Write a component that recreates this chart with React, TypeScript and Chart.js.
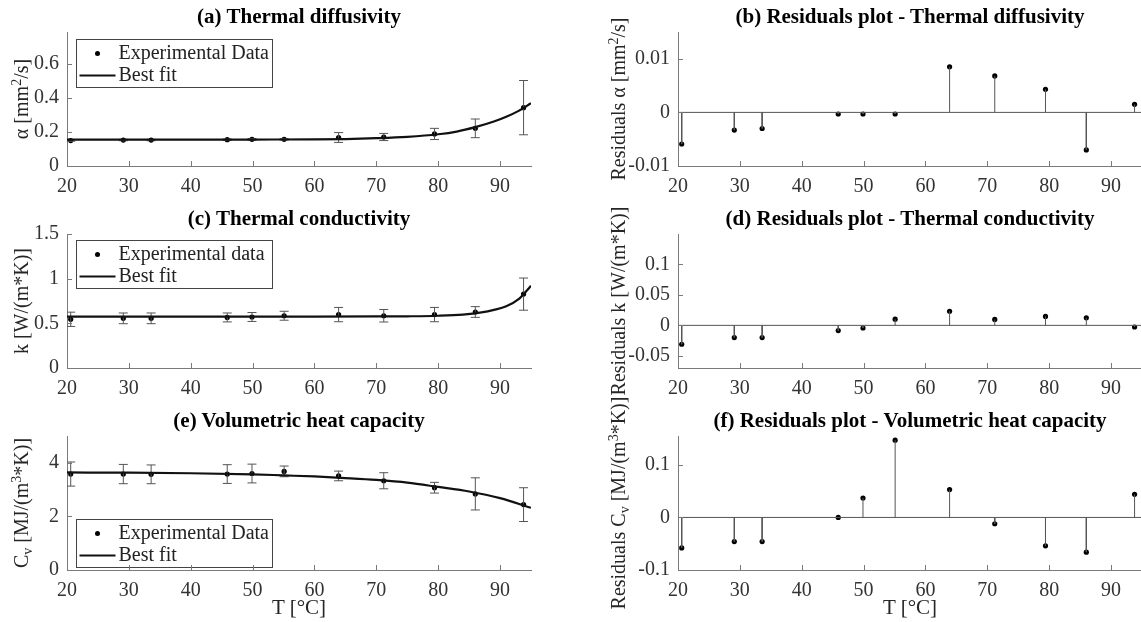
import React, { useEffect, useRef } from "react";
import { Chart, registerables } from "chart.js";

Chart.register(...registerables);

// ---------------- data ----------------
const tempX = [20.6, 29.1, 33.6, 45.9, 49.9, 55.1, 63.9, 71.2, 79.4, 86.0, 93.8];

const alphaVals = [0.150, 0.153, 0.153, 0.155, 0.157, 0.157, 0.168, 0.171, 0.189, 0.222, 0.344];
const alphaErr = [0.004, 0.004, 0.004, 0.004, 0.005, 0.004, 0.029, 0.021, 0.033, 0.055, 0.16];
const alphaFitX = [20, 30, 40, 50, 60, 65, 70, 75, 80, 83, 86, 89, 91, 93, 95];
const alphaFitY = [0.155, 0.155, 0.155, 0.156, 0.157, 0.159, 0.164, 0.172, 0.187, 0.203, 0.229, 0.262, 0.29, 0.325, 0.37];
const alphaResid = [-0.0059, -0.0033, -0.0030, -0.0003, -0.0003, -0.0003, 0.0085, 0.0068, 0.0043, -0.0070, 0.0015];

const kVals = [0.545, 0.556, 0.556, 0.566, 0.571, 0.585, 0.598, 0.585, 0.598, 0.627, 0.827];
const kErr = [0.08, 0.06, 0.06, 0.05, 0.05, 0.05, 0.08, 0.07, 0.08, 0.06, 0.18];
const kFitX = [20, 30, 40, 50, 60, 70, 75, 80, 84, 87, 89, 91, 93, 95];
const kFitY = [0.576, 0.576, 0.576, 0.576, 0.576, 0.577, 0.579, 0.585, 0.598, 0.622, 0.65, 0.69, 0.77, 0.92];
const kResid = [-0.031, -0.020, -0.020, -0.0086, -0.0043, 0.0102, 0.0232, 0.0097, 0.0146, 0.0124, -0.0027];

const cvVals = [3.58, 3.58, 3.57, 3.58, 3.60, 3.68, 3.51, 3.33, 3.07, 2.84, 2.44];
const cvErr = [0.45, 0.36, 0.35, 0.35, 0.35, 0.2, 0.18, 0.3, 0.2, 0.6, 0.63];
const cvFitX = [20, 30, 40, 50, 55, 60, 65, 70, 75, 80, 85, 90, 95];
const cvFitY = [3.64, 3.63, 3.61, 3.57, 3.53, 3.49, 3.43, 3.36, 3.26, 3.10, 2.93, 2.68, 2.32];
const cvResid = [-0.058, -0.046, -0.046, 0.0, 0.037, 0.147, 0.053, -0.012, -0.054, -0.066, 0.044];

const X_MIN = 20;
const X_MAX = 95;
const xTicks = [20, 30, 40, 50, 60, 70, 80, 90];

const alphaTicks = [0, 0.2, 0.4, 0.6];
const kTicks = [0, 0.5, 1, 1.5];
const cvTicks = [0, 2, 4];
const alphaResTicks = [-0.01, 0, 0.01];
const kResTicks = [-0.05, 0, 0.05, 0.1];
const cvResTicks = [-0.1, 0, 0.1];

// ---------------- style ----------------
const FONT = "'Liberation Serif', 'Times New Roman', serif";
const AXIS_COLOR = "#7a7a7a";
const TICK_TEXT = "#333333";
const STEM_COLOR = "#555555";
const ERR_COLOR = "#555555";

const Y_AXIS_W = 60;
const X_AXIS_H = 40;
const PAD_T = 24;
const PAD_R = 10;

const COL_L = [67, 678];
const PLOT_W = 464;
const ROW_T = [32, 234, 436];
const PLOT_H = 134;

// ---------------- plugins ----------------
const innerTicks = {
  id: "innerTicks",
  afterDraw(chart: any) {
    const { ctx, chartArea } = chart;
    const xs = chart.scales.x;
    const ys = chart.scales.y;
    ctx.save();
    ctx.strokeStyle = AXIS_COLOR;
    ctx.lineWidth = 1;
    ctx.beginPath();
    xs.ticks.forEach((t: any) => {
      const px = Math.round(xs.getPixelForValue(t.value)) + 0.5;
      ctx.moveTo(px, chartArea.bottom);
      ctx.lineTo(px, chartArea.bottom - 5);
    });
    ys.ticks.forEach((t: any) => {
      const py = Math.round(ys.getPixelForValue(t.value)) + 0.5;
      ctx.moveTo(chartArea.left, py);
      ctx.lineTo(chartArea.left + 5, py);
    });
    ctx.stroke();
    ctx.restore();
  },
};

const miniLegend = {
  id: "miniLegend",
  afterDatasetsDraw(chart: any, _args: any, opts: any) {
    if (!opts || !opts.show) return;
    const { ctx, chartArea } = chart;
    const w = 196;
    const h = 48;
    const x0 = Math.round(chartArea.left + opts.dx) + 0.5;
    const y0 =
      opts.anchor === "bottom"
        ? Math.round(chartArea.bottom - opts.dy - h) + 0.5
        : Math.round(chartArea.top + opts.dy) + 0.5;
    ctx.save();
    ctx.fillStyle = "#ffffff";
    ctx.fillRect(x0, y0, w, h);
    ctx.strokeStyle = "#444444";
    ctx.lineWidth = 1;
    ctx.strokeRect(x0, y0, w, h);
    // marker entry
    ctx.fillStyle = "#000";
    ctx.beginPath();
    ctx.arc(x0 + 21, y0 + 14, 2.5, 0, Math.PI * 2);
    ctx.fill();
    // line entry
    ctx.strokeStyle = "#111";
    ctx.lineWidth = 2;
    ctx.beginPath();
    ctx.moveTo(x0 + 3, y0 + 36);
    ctx.lineTo(x0 + 39, y0 + 36);
    ctx.stroke();
    ctx.fillStyle = "#222";
    ctx.font = `20px ${FONT}`;
    ctx.textBaseline = "middle";
    ctx.textAlign = "left";
    ctx.fillText(opts.labels[0], x0 + 42, y0 + 14);
    ctx.fillText(opts.labels[1], x0 + 42, y0 + 36);
    ctx.restore();
  },
};

// ---------------- helpers ----------------
const fmt = (v: any) => String(Math.round(Number(v) * 10000) / 10000);

function pts(xs: number[], ys: number[]) {
  return xs.map((x, i) => ({ x, y: ys[i] }));
}

function errorBars(xs: number[], ys: number[], es: number[]) {
  const out: any[] = [];
  xs.forEach((x, i) => {
    out.push({ x, y: ys[i] - es[i] });
    out.push({ x, y: ys[i] + es[i] });
    out.push({ x, y: null });
  });
  return out;
}

function stems(xs: number[], ys: number[]) {
  const out: any[] = [];
  xs.forEach((x, i) => {
    out.push({ x, y: 0 });
    out.push({ x, y: ys[i] });
    out.push({ x, y: null });
  });
  return out;
}

function scaleOpts(min: number, max: number, ticks: number[], isX: boolean) {
  return {
    type: "linear",
    min,
    max,
    afterFit: (s: any) => {
      if (isX) s.height = X_AXIS_H;
      else s.width = Y_AXIS_W;
    },
    afterBuildTicks: (s: any) => {
      s.ticks = ticks.map((v) => ({ value: v }));
    },
    grid: { display: true, drawOnChartArea: false, drawTicks: false },
    border: { display: true, color: AXIS_COLOR, width: 1 },
    ticks: {
      padding: isX ? 9 : 8,
      color: TICK_TEXT,
      font: { family: FONT, size: 20 },
      callback: fmt,
      maxRotation: 0,
      autoSkip: false,
    },
  };
}

type Spec = {
  kind: "fit" | "resid";
  col: number;
  row: number;
  yMin: number;
  yMax: number;
  yTicks: number[];
  vals: number[];
  err?: number[];
  fitX?: number[];
  fitY?: number[];
  legend?: any;
};

function buildConfig(spec: Spec) {
  const datasets: any[] = [];
  if (spec.kind === "fit") {
    datasets.push({
      label: "Experimental Data",
      data: pts(tempX, spec.vals),
      showLine: false,
      pointRadius: 2.6,
      pointBackgroundColor: "#000",
      pointBorderWidth: 0,
      order: 3,
    });
    datasets.push({
      label: "err",
      data: errorBars(tempX, spec.vals, spec.err || []),
      borderColor: ERR_COLOR,
      borderWidth: 1,
      pointStyle: "line",
      pointRadius: 4.5,
      pointBorderColor: ERR_COLOR,
      pointBorderWidth: 1,
      spanGaps: false,
      order: 2,
    });
    datasets.push({
      label: "Best fit",
      data: pts(spec.fitX || [], spec.fitY || []),
      borderColor: "#111",
      borderWidth: 2.2,
      pointRadius: 0,
      cubicInterpolationMode: "monotone",
      order: 1,
    });
  } else {
    datasets.push({
      label: "baseline",
      data: [
        { x: X_MIN, y: 0 },
        { x: X_MAX, y: 0 },
      ],
      borderColor: STEM_COLOR,
      borderWidth: 1,
      pointRadius: 0,
    });
    datasets.push({
      label: "stems",
      data: stems(tempX, spec.vals),
      borderColor: STEM_COLOR,
      borderWidth: 1,
      pointRadius: 0,
      spanGaps: false,
    });
    datasets.push({
      label: "residuals",
      data: pts(tempX, spec.vals),
      showLine: false,
      pointRadius: 2.6,
      pointBackgroundColor: "#000",
      pointBorderWidth: 0,
    });
  }
  return {
    type: "line",
    data: { datasets },
    options: {
      animation: false,
      responsive: false,
      maintainAspectRatio: false,
      events: [],
      layout: { padding: { top: PAD_T, right: PAD_R, left: 0, bottom: 0 } },
      plugins: {
        legend: { display: false },
        tooltip: { enabled: false },
        title: { display: false },
        miniLegend: spec.legend || { show: false },
      },
      scales: {
        x: scaleOpts(X_MIN, X_MAX, xTicks, true),
        y: scaleOpts(spec.yMin, spec.yMax, spec.yTicks, false),
      },
    },
    plugins: [innerTicks, miniLegend],
  };
}

const specs: Spec[] = [
  {
    kind: "fit", col: 0, row: 0, yMin: 0, yMax: 0.79, yTicks: alphaTicks,
    vals: alphaVals, err: alphaErr, fitX: alphaFitX, fitY: alphaFitY,
    legend: { show: true, anchor: "top", dx: 9, dy: 7, labels: ["Experimental Data", "Best fit"] },
  },
  { kind: "resid", col: 1, row: 0, yMin: -0.01, yMax: 0.015, yTicks: alphaResTicks, vals: alphaResid },
  {
    kind: "fit", col: 0, row: 1, yMin: 0, yMax: 1.5, yTicks: kTicks,
    vals: kVals, err: kErr, fitX: kFitX, fitY: kFitY,
    legend: { show: true, anchor: "top", dx: 9, dy: 6, labels: ["Experimental data", "Best fit"] },
  },
  { kind: "resid", col: 1, row: 1, yMin: -0.07, yMax: 0.15, yTicks: kResTicks, vals: kResid },
  {
    kind: "fit", col: 0, row: 2, yMin: 0, yMax: 5, yTicks: cvTicks,
    vals: cvVals, err: cvErr, fitX: cvFitX, fitY: cvFitY,
    legend: { show: true, anchor: "bottom", dx: 9, dy: 3, labels: ["Experimental Data", "Best fit"] },
  },
  { kind: "resid", col: 1, row: 2, yMin: -0.1, yMax: 0.155, yTicks: cvResTicks, vals: cvResid },
];

function Panel({ spec }: { spec: Spec }) {
  const ref = useRef<HTMLCanvasElement | null>(null);
  const left = COL_L[spec.col] - Y_AXIS_W;
  const top = ROW_T[spec.row] - PAD_T;
  const width = PLOT_W + Y_AXIS_W + PAD_R;
  const height = PLOT_H + PAD_T + X_AXIS_H;
  useEffect(() => {
    if (!ref.current) return;
    const chart = new Chart(ref.current, buildConfig(spec) as any);
    return () => chart.destroy();
  }, []);
  return (
    <canvas
      ref={ref}
      width={width}
      height={height}
      style={{ position: "absolute", left, top, width, height }}
    />
  );
}

const sup = { fontSize: "0.7em", position: "relative" as const, top: "-0.5em" };
const sub = { fontSize: "0.7em", position: "relative" as const, top: "0.3em" };

function RotLabel({ cx, cy, children }: any) {
  return (
    <div
      style={{
        position: "absolute",
        left: cx,
        top: cy,
        transform: "translate(-50%, -50%) rotate(-90deg)",
        whiteSpace: "nowrap",
        fontFamily: FONT,
        fontSize: 20,
        lineHeight: 1,
        color: "#262626",
      }}
    >
      {children}
    </div>
  );
}

function Text({ cx, cy, bold, size, children }: any) {
  return (
    <div
      style={{
        position: "absolute",
        left: cx,
        top: cy,
        transform: "translate(-50%, -50%)",
        whiteSpace: "nowrap",
        fontFamily: FONT,
        fontSize: size,
        fontWeight: bold ? "bold" : "normal",
        lineHeight: 1,
        color: bold ? "#000" : "#262626",
      }}
    >
      {children}
    </div>
  );
}

export default function App() {
  const cxL = COL_L[0] + PLOT_W / 2;
  const cxR = COL_L[1] + PLOT_W / 2;
  const midY = ROW_T.map((t) => t + PLOT_H / 2);
  return (
    <div
      style={{
        position: "fixed",
        left: 0,
        top: 0,
        width: 1141,
        height: 622,
        overflow: "hidden",
        background: "#fff",
      }}
    >
      {specs.map((s, i) => (
        <Panel key={i} spec={s} />
      ))}
      <Text cx={cxL} cy={16} size={21} bold>(a) Thermal diffusivity</Text>
      <Text cx={cxR} cy={16} size={21} bold>(b) Residuals plot - Thermal diffusivity</Text>
      <Text cx={cxL} cy={218} size={21} bold>(c) Thermal conductivity</Text>
      <Text cx={cxR} cy={218} size={21} bold>(d) Residuals plot - Thermal conductivity</Text>
      <Text cx={cxL} cy={420} size={21} bold>(e) Volumetric heat capacity</Text>
      <Text cx={cxR} cy={420} size={21} bold>(f) Residuals plot - Volumetric heat capacity</Text>

      <RotLabel cx={21} cy={midY[0]}>α [mm<span style={sup}>2</span>/s]</RotLabel>
      <RotLabel cx={21} cy={midY[1]}>k [W/(m*K)]</RotLabel>
      <RotLabel cx={21} cy={midY[2]}>C<span style={sub}>v</span> [MJ/(m<span style={sup}>3</span>*K)]</RotLabel>

      <RotLabel cx={618} cy={midY[0]}>Residuals α [mm<span style={sup}>2</span>/s]</RotLabel>
      <RotLabel cx={618} cy={midY[1]}>Residuals k [W/(m*K)]</RotLabel>
      <RotLabel cx={618} cy={midY[2]}>Residuals C<span style={sub}>v</span> [MJ/(m<span style={sup}>3</span>*K)]</RotLabel>

      <Text cx={cxL} cy={607} size={21}>T [°C]</Text>
      <Text cx={cxR} cy={607} size={21}>T [°C]</Text>
    </div>
  );
}
